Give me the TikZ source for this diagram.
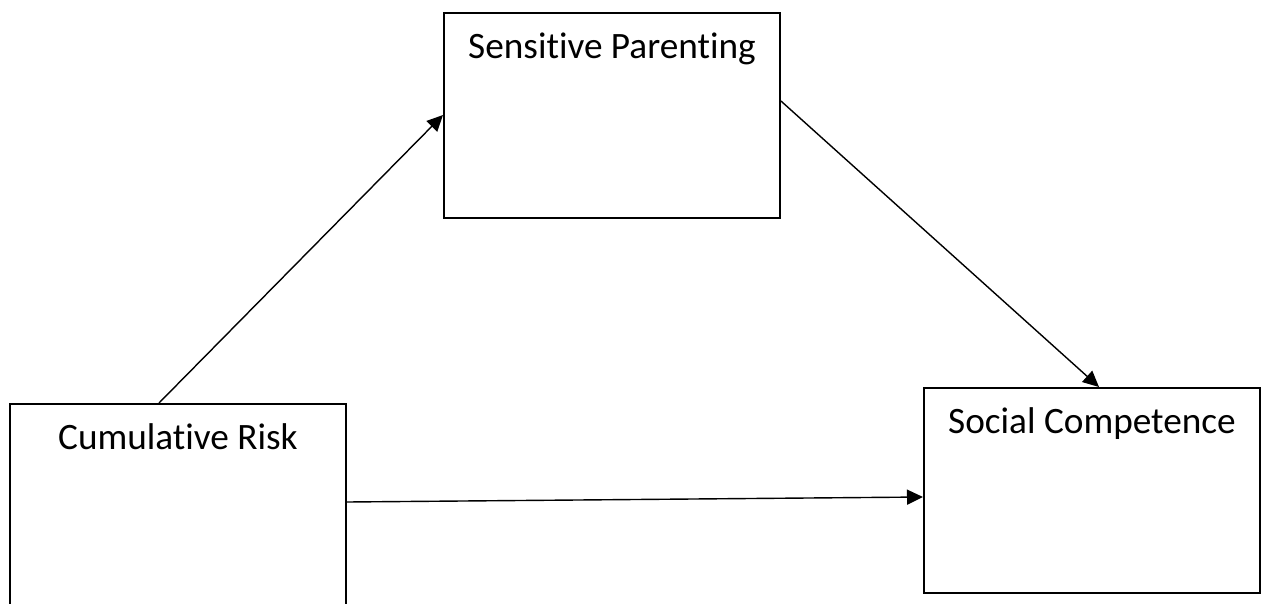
\documentclass[tikz,border=0pt]{standalone}
\usepackage{fontspec}
\setmainfont{Carlito}[Ligatures=NoCommon]
\usetikzlibrary{arrows.meta}

\begin{document}
\begin{tikzpicture}[
    box/.style={rectangle, draw, line width=1.1pt, anchor=north west, minimum width=6.72cm,
        inner sep=0pt, text height=0.92cm, text depth=3.18cm, font=\fontsize{21.2}{25}\selectfont},
    path/.style={line width=0.8pt, -{Triangle[length=0.32cm, width=0.3cm]}}
]
    % Marges
    \clip (0, 0) rectangle (25.22, -12.06);
    \useasboundingbox (0, 0) rectangle (25.22, -12.06);

    % Variables
    \node[box] (sp) at (8.86, -0.24) {Sensitive Parenting};
    \node[box] (cr) at (0.18, -8.06) {Cumulative Risk};
    \node[box] (sc) at (18.46, -7.74) {Social Competence};

    % Camins
    \draw[path] ([xshift=3cm]cr.north west) -- ([yshift=-2.06cm]sp.north west);
    \draw[path] ([yshift=-1.78cm]sp.north east) -- ([xshift=3.52cm]sc.north west);
    \draw[path] ([yshift=-1.98cm]cr.north east) -- ([yshift=-2.2cm]sc.north west);
\end{tikzpicture}
\end{document}
